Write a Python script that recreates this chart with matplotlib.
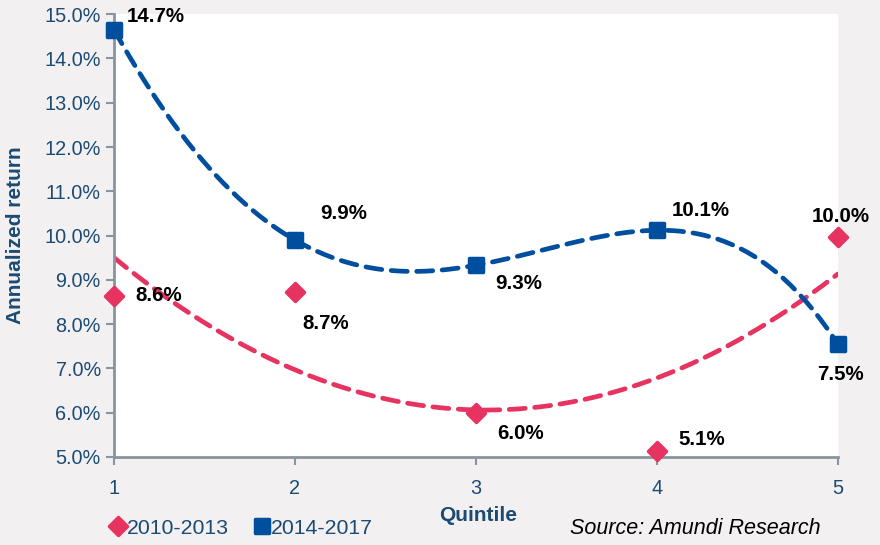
import numpy as np
import matplotlib.pyplot as plt
from matplotlib.markers import MarkerStyle

plt.rcParams['font.family'] = ['Liberation Sans', 'DejaVu Sans']

quintiles = [1, 2, 3, 4, 5]
ret_2010_2013 = [8.64, 8.72, 5.99, 5.13, 9.97]
ret_2014_2017 = [14.65, 9.90, 9.33, 10.12, 7.55]
yticks = [5, 6, 7, 8, 9, 10, 11, 12, 13, 14, 15]

red = '#E6335F'
blue = '#004F9F'
navy = '#1B4A73'
bg = '#F2F0F1'
grey = '#8A94A0'

fig = plt.figure(figsize=(8.8, 5.45), dpi=100, facecolor=bg)
ax = fig.add_axes([0.1295, 0.1615, 0.8225, 0.8125])
ax.set_facecolor('white')

# trendlines (Excel-like polynomial fits)
xs = np.linspace(1, 5, 200)
ax.plot(xs, np.polyval(np.polyfit(quintiles, ret_2010_2013, 2), xs),
        color=red, lw=3.4, dashes=(3.4, 2.0), dash_capstyle='round', zorder=2)
ax.plot(xs, np.polyval(np.polyfit(quintiles, ret_2014_2017, 4), xs),
        color=blue, lw=3.4, dashes=(3.4, 2.0), dash_capstyle='round', zorder=2)

dia = MarkerStyle('D', joinstyle='round')
sq = MarkerStyle('s', joinstyle='round')
ax.plot(quintiles, ret_2010_2013, ls='none', marker=dia, ms=9.5, color=red,
        mec=red, mew=2.5, clip_on=False, zorder=4, label='2010-2013')
ax.plot(quintiles, ret_2014_2017, ls='none', marker=sq, ms=10.5, color=blue,
        mec=blue, mew=2.5, clip_on=False, zorder=4, label='2014-2017')

# data labels: offsets in pixels (dx, dy, ha)
red_off = [(21, 0, 'left'), (7, -31, 'left'), (21, -20, 'left'),
           (22, 12, 'left'), (3, 20, 'center')]
blue_off = [(13, 13, 'left'), (25, 27, 'left'), (19, -18, 'left'),
            (15, 20, 'left'), (3, -30, 'center')]
for vals, offs in ((ret_2010_2013, red_off), (ret_2014_2017, blue_off)):
    for x, v, (dx, dy, ha) in zip(quintiles, vals, offs):
        ax.annotate(f'{v:.1f}%', (x, v), xytext=(dx, dy),
                    textcoords='offset pixels', ha=ha, va='center',
                    fontsize=14.8, fontweight='bold', color='black',
                    zorder=5, annotation_clip=False)

ax.set_xlim(1, 5)
ax.set_ylim(5, 15)
ax.set_xticks(quintiles)
ax.set_yticks(yticks)
ax.set_yticklabels([f'{t:.1f}%' for t in yticks])
ax.tick_params(colors=grey, labelcolor=navy, labelsize=14.3, length=6, width=1.5)
ax.tick_params(axis='x', pad=10)
for s in ('top', 'right'):
    ax.spines[s].set_visible(False)
for s in ('left', 'bottom'):
    ax.spines[s].set_color(grey)
    ax.spines[s].set_linewidth(2)

ax.set_ylabel('Annualized return', fontsize=15, fontweight='bold', color=navy,
              labelpad=14)
fig.text(0.543, 0.055, 'Quintile', fontsize=15, fontweight='bold', color=navy,
         ha='center', va='center')
fig.text(0.933, 0.03, 'Source: Amundi Research', fontsize=15.5, style='italic',
         color='black', ha='right', va='center')

leg = fig.legend(loc='lower left', bbox_to_anchor=(0.105, -0.022), ncol=2,
                 frameon=False, fontsize=15.3, handlelength=0.6,
                 handletextpad=0.1, columnspacing=1.3, markerscale=0.95,
                 labelcolor=navy)

fig.savefig('out.png', dpi=100, facecolor=bg)
